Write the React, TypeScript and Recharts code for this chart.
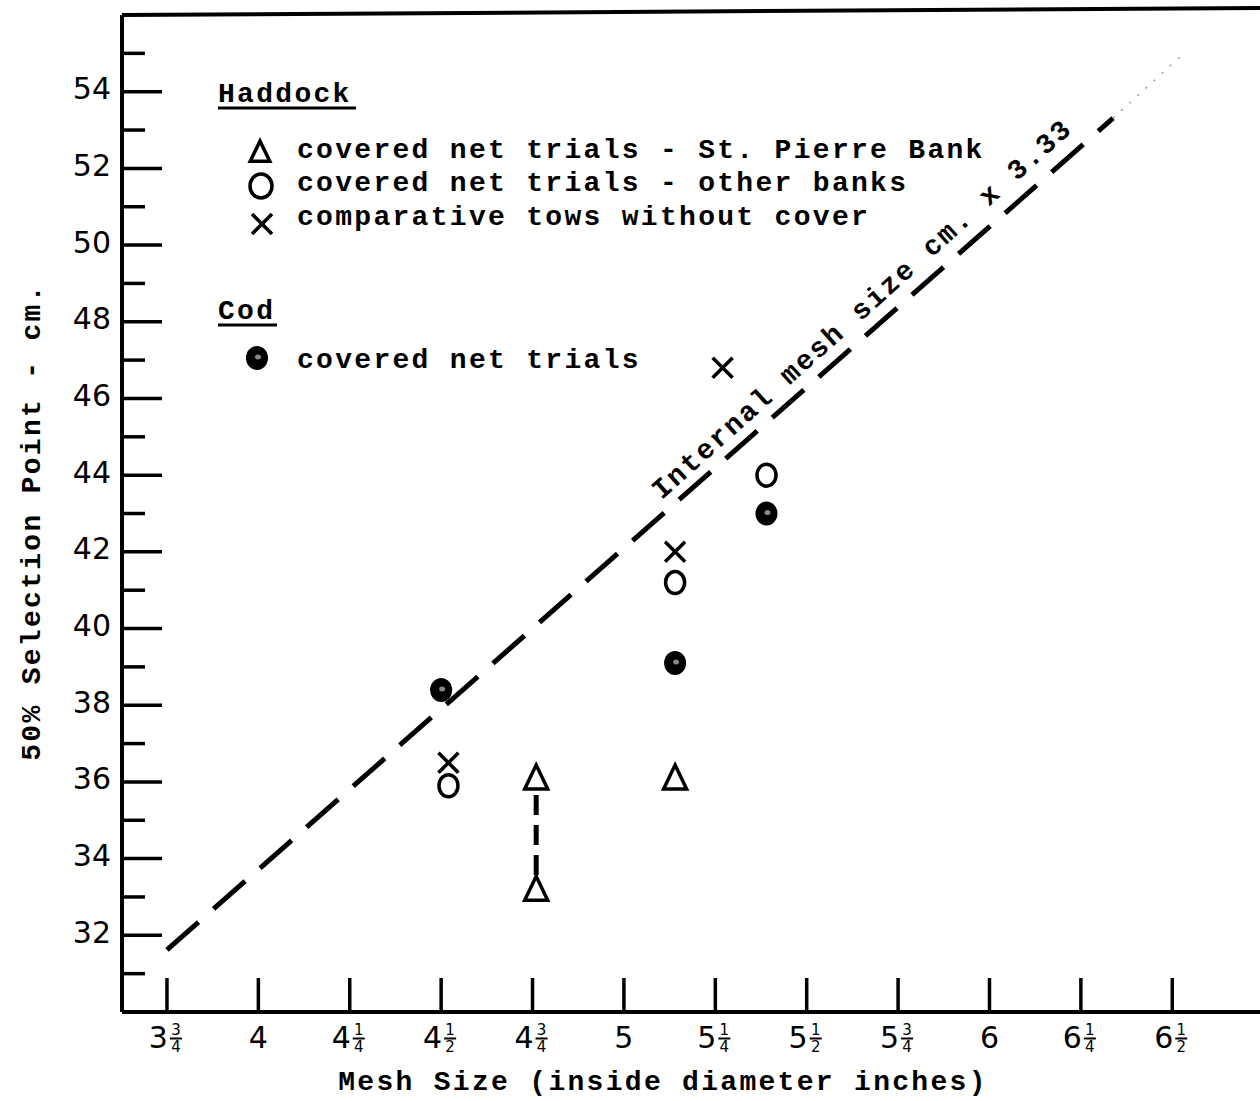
import React from "react";
import {
  ReferenceDot,
  ReferenceLine,
  Scatter,
  ScatterChart,
  XAxis,
  YAxis,
} from "recharts";

// mesh size ticks (inches) and selection point ticks (cm)
const xTicks = [3.75, 4, 4.25, 4.5, 4.75, 5, 5.25, 5.5, 5.75, 6, 6.25, 6.5];
const yTicks = [31, 32, 33, 34, 35, 36, 37, 38, 39, 40, 41, 42, 43, 44, 45, 46, 47, 48, 49, 50, 51, 52, 53, 54, 55];

// Haddock
const stPierre = [
  { x: 4.76, y: 36.1 },
  { x: 4.76, y: 33.2 },
  { x: 5.14, y: 36.1 },
];
const otherBanks = [
  { x: 4.52, y: 35.9 },
  { x: 5.14, y: 41.2 },
  { x: 5.39, y: 44.0 },
];
const withoutCover = [
  { x: 4.52, y: 36.5 },
  { x: 5.14, y: 42.0 },
  { x: 5.27, y: 46.8 },
];
// Cod
const cod = [
  { x: 4.5, y: 38.4 },
  { x: 5.14, y: 39.1 },
  { x: 5.39, y: 43.0 },
];

// internal mesh size cm. x 3.33
const meshLine = [
  { x: 3.75, y: 31.62 },
  { x: 6.338, y: 53.31 },
];
const meshLineFaint = [
  { x: 6.338, y: 53.31 },
  { x: 6.524, y: 54.93 },
];
const stPierreRange = [
  { x: 4.76, y: 35.66 },
  { x: 4.76, y: 33.57 },
];
const frame = [
  { x: 3.627, y: 56 },
  { x: 6.74, y: 56.18 },
];

const FRAC: Record<string, [string, string]> = {
  "0.25": ["1", "4"],
  "0.5": ["1", "2"],
  "0.75": ["3", "4"],
};

const LETTER = "DejaVu Sans";
const TYPE = "Liberation Mono";
const TYPE_SIZE = 28;
const TYPE_SPACING = 2.3;

const XTick = (props: any) => {
  const { x, y, payload } = props;
  const v = payload.value as number;
  const whole = Math.floor(v);
  const f = FRAC[String(v - whole)];
  return (
    <g>
      <line x1={x} x2={x} y1={y} y2={y - 34} stroke="#000" strokeWidth={3.5} />
      {f ? (
        <g fontFamily={LETTER} fill="#000">
          <text x={x + 1} y={y + 36} textAnchor="end" fontSize={30}>
            {whole}
          </text>
          <text x={x + 9} y={y + 23} textAnchor="middle" fontSize={15}>
            {f[0]}
          </text>
          <line x1={x + 3} x2={x + 15} y1={y + 26.5} y2={y + 26.5} stroke="#000" strokeWidth={2} />
          <text x={x + 9} y={y + 40} textAnchor="middle" fontSize={15}>
            {f[1]}
          </text>
        </g>
      ) : (
        <text x={x} y={y + 36} textAnchor="middle" fontSize={30} fontFamily={LETTER} fill="#000">
          {whole}
        </text>
      )}
    </g>
  );
};

const YTick = (props: any) => {
  const { x, y, payload } = props;
  const v = payload.value as number;
  const major = v % 2 === 0;
  return (
    <g>
      <line x1={x} x2={x + (major ? 40 : 23)} y1={y} y2={y} stroke="#000" strokeWidth={3.5} />
      {major && (
        <text x={x - 11} y={y - 3} textAnchor="end" dominantBaseline="central" fontSize={30} fontFamily={LETTER} fill="#000">
          {v}
        </text>
      )}
    </g>
  );
};

const Triangle = ({ cx, cy, s = 1 }: any) => (
  <path
    d={`M${cx},${cy - 13 * s} L${cx + 11.5 * s},${cy + 11 * s} L${cx - 11.5 * s},${cy + 11 * s} Z`}
    fill="none"
    stroke="#000"
    strokeWidth={3.5}
  />
);

const Ring = ({ cx, cy }: any) => (
  <ellipse cx={cx} cy={cy} rx={9.5} ry={11} fill="none" stroke="#000" strokeWidth={3.5} />
);

const Cross = ({ cx, cy }: any) => (
  <g stroke="#000" strokeWidth={3.5}>
    <line x1={cx - 10} y1={cy - 10} x2={cx + 10} y2={cy + 10} />
    <line x1={cx + 10} y1={cy - 10} x2={cx - 10} y2={cy + 10} />
  </g>
);

const Dot = ({ cx, cy }: any) => (
  <g>
    <ellipse cx={cx} cy={cy} rx={11} ry={12} fill="#000" />
    <ellipse cx={cx + 1} cy={cy - 1} rx={3} ry={2.5} fill="#888" />
  </g>
);

export default function App() {
  return (
    <div style={{ position: "absolute", left: 0, top: 0, width: 1260, height: 1101, background: "#fff" }}>
      <ScatterChart width={1260} height={1101} margin={{ top: 15, right: 0, bottom: 0, left: 0 }}>
        <XAxis
          type="number"
          dataKey="x"
          domain={[3.627, 6.74]}
          ticks={xTicks}
          interval={0}
          height={89}
          tickSize={0}
          tickMargin={0}
          tickLine={false}
          tick={<XTick />}
          axisLine={{ stroke: "#000", strokeWidth: 4 }}
          allowDataOverflow
        />
        <YAxis
          type="number"
          dataKey="y"
          domain={[30, 56]}
          ticks={yTicks}
          interval={0}
          width={122}
          tickSize={0}
          tickMargin={0}
          tickLine={false}
          tick={<YTick />}
          axisLine={{ stroke: "#000", strokeWidth: 4 }}
          allowDataOverflow
        />
        <ReferenceLine segment={frame} stroke="#000" strokeWidth={4} ifOverflow="visible" />
        <ReferenceLine segment={meshLine} stroke="#000" strokeWidth={5} strokeDasharray="42 20" />
        <ReferenceLine segment={meshLineFaint} stroke="#999" strokeWidth={1.5} strokeDasharray="2 9" />
        <ReferenceLine segment={stPierreRange} stroke="#000" strokeWidth={5} strokeDasharray="20 10" />
        <ReferenceDot
          x={5.649}
          y={48.36}
          r={0}
          stroke="none"
          label={{
            value: "Internal mesh size cm. x 3.33",
            position: "center",
            angle: -41.9,
            fontFamily: TYPE,
            fontWeight: "bold",
            fontSize: TYPE_SIZE,
            letterSpacing: TYPE_SPACING,
            fill: "#000",
          }}
        />
        <Scatter data={stPierre} shape={<Triangle />} isAnimationActive={false} />
        <Scatter data={otherBanks} shape={<Ring />} isAnimationActive={false} />
        <Scatter data={withoutCover} shape={<Cross />} isAnimationActive={false} />
        <Scatter data={cod} shape={<Dot />} isAnimationActive={false} />
      </ScatterChart>
      <svg
        width={1260}
        height={1101}
        style={{ position: "absolute", left: 0, top: 0, pointerEvents: "none" }}
      >
        <g fontFamily={TYPE} fontWeight="bold" fontSize={TYPE_SIZE} letterSpacing={TYPE_SPACING} fill="#000">
          <text x={218} y={102}>Haddock</text>
          <line x1={218} x2={356} y1={108} y2={108} stroke="#000" strokeWidth={3} />
          <Triangle cx={260} cy={152} s={0.85} />
          <text x={297} y={158}>covered net trials - St. Pierre Bank</text>
          <ellipse cx={261} cy={186} rx={11} ry={12} fill="none" stroke="#000" strokeWidth={3.5} />
          <text x={297} y={191}>covered net trials - other banks</text>
          <Cross cx={262} cy={224} />
          <text x={297} y={225}>comparative tows without cover</text>
          <text x={218} y={319}>Cod</text>
          <line x1={218} x2={277} y1={325} y2={325} stroke="#000" strokeWidth={3} />
          <Dot cx={257} cy={358} />
          <text x={297} y={368}>covered net trials</text>
          <text x={663} y={1090} textAnchor="middle">
            Mesh Size (inside diameter inches)
          </text>
          <text x={40} y={522} textAnchor="middle" transform="rotate(-90 40 522)">
            50% Selection Point - cm.
          </text>
        </g>
      </svg>
    </div>
  );
}
